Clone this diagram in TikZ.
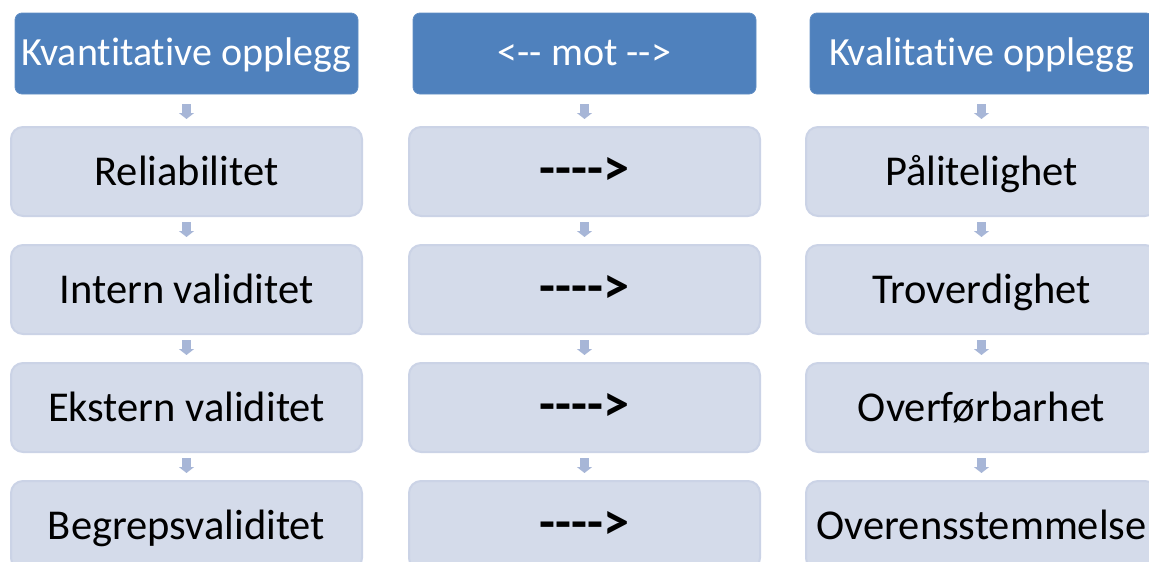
\documentclass[tikz,border=0pt]{standalone}
\usepackage{fontspec}
\setmainfont{Carlito}[Ligatures=NoCommon]
\usetikzlibrary{arrows.meta}
\definecolor{headblue}{HTML}{4F81BD}
\definecolor{boxfill}{HTML}{D4DBEA}
\definecolor{boxline}{HTML}{CBD3E6}
\definecolor{arrowc}{HTML}{A7B6D7}
\tikzset{
  head/.style={fill=headblue, draw=headblue!90!white, line width=0.8pt, rounded corners=7pt,
    minimum width=343pt, minimum height=81pt, inner sep=0pt, text=white,
    text height=26pt, text depth=3pt,
    font=\fontsize{40}{48}\selectfont},
  item/.style={fill=boxfill, draw=boxline, line width=2pt, rounded corners=12pt,
    minimum width=351pt, minimum height=89pt, inner sep=0pt, text=black,
    text height=30pt, text depth=3pt,
    font=\fontsize{42.5}{50}\selectfont},
  mid/.style={item, font=\fontsize{52}{60}\selectfont\bfseries},
  flow/.style={draw=arrowc, line width=9pt, -{Triangle[width=15pt,length=6pt]}},
}
\begin{document}
\begin{tikzpicture}[x=1pt,y=-1pt]
\useasboundingbox (0,0) rectangle (1149,562);
\clip (0,0) rectangle (1149,562);
% column 1
\node[head] (h1) at (186.5,53.5) {Kvantitative opplegg};
\node[item] (a1) at (186.5,171.5) {Reliabilitet};
\node[item] (a2) at (186.5,289.5) {Intern validitet};
\node[item] (a3) at (186.5,407.5) {Ekstern validitet};
\node[item] (a4) at (186.5,525.5) {Begrepsvaliditet};
% column 2
\node[head] (h2) at (584.5,53.5) {<-{}- mot -{}->};
\node[mid] (b1) at (584.5,171.5) {-{}-{}-{}->};
\node[mid] (b2) at (584.5,289.5) {-{}-{}-{}->};
\node[mid] (b3) at (584.5,407.5) {-{}-{}-{}->};
\node[mid] (b4) at (584.5,525.5) {-{}-{}-{}->};
% column 3
\node[head] (h3) at (981.5,53.5) {Kvalitative opplegg};
\node[item] (c1) at (981.5,171.5) {Pålitelighet};
\node[item] (c2) at (981.5,289.5) {Troverdighet};
\node[item] (c3) at (981.5,407.5) {Overførbarhet};
\node[item] (c4) at (981.5,525.5) {Overensstemmelse};
% arrows
\foreach \h/\c in {1/a,2/b,3/c}{
  \draw[flow, shorten <=10pt, shorten >=7pt] (h\h) -- (\c1);
}
\foreach \c in {a,b,c}{
  \foreach \i/\j in {1/2,2/3,3/4}{
    \draw[flow, shorten <=5pt, shorten >=7pt] (\c\i) -- (\c\j);
  }
}
\end{tikzpicture}
\end{document}
